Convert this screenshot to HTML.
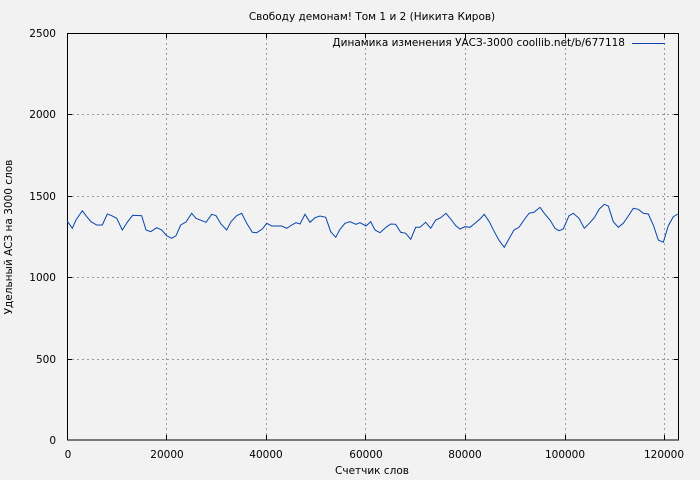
<!DOCTYPE html>
<html><head><meta charset="utf-8"><style>
body{margin:0;background:#f2f2f2}
svg{display:block;font-family:"DejaVu Sans","Liberation Sans",sans-serif}
</style></head><body>
<svg width="700" height="480" viewBox="0 0 700 480">
<rect width="700" height="480" fill="#f2f2f2"/>
<g stroke="#999" stroke-dasharray="2,3" stroke-width="1">
<line x1="67" y1="359.5" x2="679" y2="359.5"/>
<line x1="67" y1="277.5" x2="679" y2="277.5"/>
<line x1="67" y1="196.5" x2="679" y2="196.5"/>
<line x1="67" y1="114.5" x2="679" y2="114.5"/>
<line x1="166.5" y1="33" x2="166.5" y2="440"/>
<line x1="266.5" y1="33" x2="266.5" y2="440"/>
<line x1="365.5" y1="33" x2="365.5" y2="440"/>
<line x1="465.5" y1="33" x2="465.5" y2="440"/>
<line x1="565.5" y1="33" x2="565.5" y2="440"/>
<line x1="664.5" y1="33" x2="664.5" y2="440"/>
</g>
<rect x="67.5" y="33.5" width="611" height="406.5" fill="none" stroke="#000"/>
<g stroke="#000">
<line x1="67" y1="359.5" x2="72" y2="359.5"/><line x1="67" y1="277.5" x2="72" y2="277.5"/><line x1="67" y1="196.5" x2="72" y2="196.5"/><line x1="67" y1="114.5" x2="72" y2="114.5"/>
<line x1="674" y1="359.5" x2="679" y2="359.5"/><line x1="674" y1="277.5" x2="679" y2="277.5"/><line x1="674" y1="196.5" x2="679" y2="196.5"/><line x1="674" y1="114.5" x2="679" y2="114.5"/>
<line x1="166.5" y1="440" x2="166.5" y2="435"/><line x1="266.5" y1="440" x2="266.5" y2="435"/><line x1="365.5" y1="440" x2="365.5" y2="435"/><line x1="465.5" y1="440" x2="465.5" y2="435"/><line x1="565.5" y1="440" x2="565.5" y2="435"/><line x1="664.5" y1="440" x2="664.5" y2="435"/>
<line x1="166.5" y1="33" x2="166.5" y2="38"/><line x1="266.5" y1="33" x2="266.5" y2="38"/><line x1="365.5" y1="33" x2="365.5" y2="38"/><line x1="465.5" y1="33" x2="465.5" y2="38"/><line x1="565.5" y1="33" x2="565.5" y2="38"/><line x1="664.5" y1="33" x2="664.5" y2="38"/>
</g>
<g font-size="10.5" fill="#000" text-anchor="end">
<text x="56" y="444">0</text><text x="56" y="363">500</text><text x="56" y="281">1000</text><text x="56" y="200">1500</text><text x="56" y="118">2000</text><text x="56" y="37">2500</text>
</g>
<g font-size="10.5" fill="#000" text-anchor="middle">
<text x="68" y="458">0</text><text x="167" y="458">20000</text><text x="266" y="458">40000</text><text x="366" y="458">60000</text><text x="465" y="458">80000</text><text x="565" y="458">100000</text><text x="664" y="458">120000</text>
<text x="372" y="474">Счетчик слов</text>
<text x="372" y="20">Свободу демонам! Том 1 и 2  (Никита Киров)</text>
</g>
<text x="12" y="237" font-size="10.5" text-anchor="middle" transform="rotate(-90 12 237)">Удельный АСЗ на 3000 слов</text>
<text x="625" y="46" font-size="10.5" text-anchor="end">Динамика изменения УАСЗ-3000 coollib.net/b/677118</text>
<line x1="632" y1="43.5" x2="665" y2="43.5" stroke="#0645ad"/>
<polyline fill="none" stroke="#0645ad" stroke-width="1" points="67,220.7 72.3,228.3 76,220 82.3,210.7 86,215.7 91,221.7 96.7,225 102.3,225 107.3,214 111.7,215.7 116.7,218.3 122.3,230 127.7,221.7 132.7,215.3 141.7,215.7 146,230 150.7,231.7 156.7,227.7 161.7,230 166.7,235.7 171.7,238.3 176,235.7 180.7,225 186,222 191.7,213.3 196,218.3 206,222.3 211.7,214.3 216,215.7 221,224 226.7,230 231,221.7 236.7,215.7 241.7,213.3 246.7,223.3 252.3,232.3 256.7,232.7 262.3,229 266.7,223.3 271.7,226 281.7,226 286.7,228.3 291.7,225 296,222.7 300,224 305,214.3 310,222.3 315,217.7 320,216 325.7,217.3 330.7,231.7 335.7,237.3 340,229.3 345,223.3 350,221.7 356,224.3 360,222.7 366,226 370.7,221.7 375,230 380,232.7 386,227.3 390.7,224 395.7,224.3 400.7,232.3 405.7,233.3 410.7,239.3 415.7,227.3 420,227.3 425.7,222.3 430.7,228.3 435.7,220 440.7,217.7 446,213.3 450.7,219 455.7,225.7 460,229 465,226.7 470,227.3 475,223.3 480,219 484.3,214.3 489.3,221.7 494.3,231.7 499.3,240.7 504.3,247.3 509.3,238.3 514,230 519,227.3 524,220 529,213.3 534,212.3 540,207.3 544.3,213.3 550,220 555,228.3 559,230.7 563.3,229 569,215.7 573.3,213.3 579,218.3 584.3,228.3 589.3,223.3 594.3,217.7 599.3,209 604.3,204.3 608.3,206 613.3,221.7 618.3,227.3 623.3,223.3 628.3,216 633.3,208.3 638.3,209.3 643.3,213.3 648.3,214 653.3,225 658.3,240 663.3,242.3 668.3,225.7 673.3,216.7 678,214"/>
</svg>
</body></html>
